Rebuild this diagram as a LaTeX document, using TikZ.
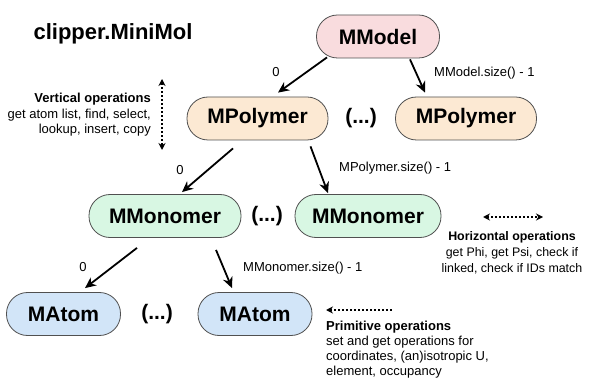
\documentclass[tikz,border=0pt]{standalone}
\usepackage{fontspec}
\setmainfont{Liberation Sans}
\usetikzlibrary{arrows.meta}
\definecolor{pinkf}{HTML}{F9DCDE}
\definecolor{beigef}{HTML}{FCE9D3}
\definecolor{greenf}{HTML}{D8F7E3}
\definecolor{bluef}{HTML}{D2E5F8}
\definecolor{edgec}{HTML}{505050}
\begin{document}
\begin{tikzpicture}[x=1pt,y=-1pt,
  box/.style={draw=edgec, line width=0.8pt, rounded corners=21pt, minimum height=43pt,
    font=\fontsize{21}{25}\selectfont\bfseries, inner sep=0pt},
  conn/.style={line width=1.8pt, -{Stealth[length=11pt,width=10pt]}},
  lab/.style={font=\fontsize{13}{15.5}\selectfont, inner sep=0pt},
  ell/.style={font=\fontsize{21}{25}\selectfont\bfseries, inner sep=0pt},
  dotline/.style={line width=1.8pt, dash pattern=on 2pt off 2pt},
  tip/.tip={Stealth[length=7pt,width=7pt]}]
\useasboundingbox (0,0) rectangle (591,379);

% title
\node[inner sep=0pt, font=\fontsize{22}{26}\selectfont\bfseries] (title) at (113,34) {clipper.MiniMol};

% tree nodes
\node[box, fill=pinkf, minimum width=123pt] (mmodel) at (378,36.5) {MModel};
\node[box, fill=beigef, minimum width=141pt] (mpoly1) at (257.5,118.5) {MPolymer};
\node[ell] (dots1) at (361,118.5) {(...)};
\node[box, fill=beigef, minimum width=141pt] (mpoly2) at (466,118.5) {MPolymer};
\node[box, fill=greenf, minimum width=152pt] (mmono1) at (165,216) {MMonomer};
\node[ell] (dots2) at (267,216) {(...)};
\node[box, fill=greenf, minimum width=146pt] (mmono2) at (368,216) {MMonomer};
\node[box, fill=bluef, minimum width=114pt] (matom1) at (63.5,314) {MAtom};
\node[ell] (dots3) at (157,314) {(...)};
\node[box, fill=bluef, minimum width=114pt] (matom2) at (255,314) {MAtom};

% connectors
\draw[conn] ([shift={(-51,-1)}]mmodel.south) -- ([shift={(20.5,-4)}]mpoly1.north);
\draw[conn] ([shift={(32,1)}]mmodel.south) -- ([shift={(-41,-4)}]mpoly2.north);
\draw[conn] ([shift={(-24.5,8)}]mpoly1.south) -- ([shift={(17,-2)}]mmono1.north);
\draw[conn] ([shift={(53,6)}]mpoly1.south) -- ([shift={(-40,-1)}]mmono2.north);
\draw[conn] ([shift={(-28,10)}]mmono1.south) -- ([shift={(21.5,-4)}]matom1.north);
\draw[conn] ([shift={(51,12)}]mmono1.south) -- ([shift={(-23,-4)}]matom2.north);

% connector labels
\node[lab] (l1) at (276,72) {0};
\node[lab, anchor=west] (l2) at (434,73) {MModel.size() - 1};
\node[lab] (l3) at (180,170) {0};
\node[lab, anchor=west] (l4) at (339,168) {MPolymer.size() - 1};
\node[lab] (l5) at (83,267) {0};
\node[lab, anchor=west] (l6) at (243,268) {MMonomer.size() - 1};

% vertical operations
\coordinate (vtop) at (162,79);
\coordinate (vbot) at (162,150);
\draw[dotline, {tip}-{tip}] (vtop) -- (vbot);
\node[lab, anchor=north east, align=right] (vops) at (151,93)
  {\textbf{Vertical operations}\\get atom list, find, select,\\lookup, insert, copy};

% horizontal operations
\coordinate (hl) at (483,217);
\coordinate (hr) at (543,217);
\draw[dotline, {tip}-{tip}] (hl) -- (hr);
\node[lab, anchor=north, align=center, font=\fontsize{12.4}{16}\selectfont] (hops) at (512,231)
  {\textbf{Horizontal operations}\\get Phi, get Psi, check if\\linked, check if IDs match};

% primitive operations
\coordinate (pl) at (326,310);
\coordinate (pr) at (392,310);
\draw[dotline, {tip}-] (pl) -- (pr);
\node[lab, anchor=north west, align=left, font=\fontsize{13}{15}\selectfont] (pops) at (326,321)
  {\textbf{Primitive operations}\\set and get operations for\\coordinates, (an)isotropic U,\\element, occupancy};
\end{tikzpicture}
\end{document}
